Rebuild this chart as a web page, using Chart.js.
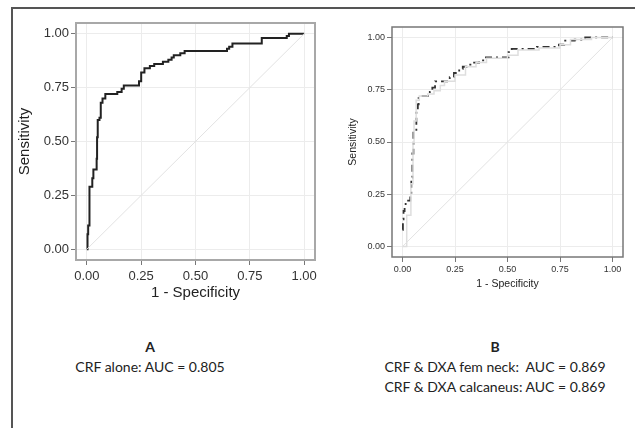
<!DOCTYPE html>
<html>
<head>
<meta charset="utf-8">
<script src="https://cdn.jsdelivr.net/npm/chart.js@4.4.1/dist/chart.umd.min.js"></script>
<style>
  html, body { margin: 0; padding: 0; background: #fff; }
  body { width: 635px; height: 428px; position: relative; overflow: hidden; }
  .frame { position: absolute; background: #555; }
  canvas { position: absolute; }
  .cap { position: absolute; font-family: Lato, "Open Sans", sans-serif; font-size: 14px; color: #222; text-align: center; white-space: pre; line-height: 20px; }
  .cap b { font-weight: 700; }
</style>
</head>
<body>
<div class="frame" style="left:12px;top:7px;width:623px;height:2px"></div>
<div class="frame" style="left:11px;top:7px;width:2px;height:421px"></div>

<div style="position:absolute;left:14px;top:10px;width:308px;height:292px">
  <canvas id="rocA" width="308" height="292"></canvas>
</div>
<div style="position:absolute;left:345px;top:12px;width:285px;height:280px">
  <canvas id="rocB" width="285" height="280"></canvas>
</div>

<div class="cap" style="left:60px;top:337px;width:180px"><b>A</b>
CRF alone: AUC = 0.805</div>
<div class="cap" style="left:370px;top:337px;width:250px"><b>B</b>
CRF &amp; DXA fem neck:  AUC = 0.869
CRF &amp; DXA calcaneus: AUC = 0.869</div>

<script>
// ROC step points: x = 1 - specificity where sensitivity rises, y = new sensitivity
const fprA = [0, 0.003, 0.006, 0.012, 0.025, 0.03, 0.045, 0.047, 0.05, 0.058, 0.064, 0.072, 0.085, 0.14, 0.16, 0.17, 0.24, 0.25, 0.265, 0.29, 0.31, 0.35, 0.375, 0.39, 0.40, 0.43, 0.45, 0.645, 0.655, 0.67, 0.805, 0.92, 0.93, 1.0];
const tprA = [0, 0.07, 0.11, 0.29, 0.33, 0.37, 0.42, 0.52, 0.60, 0.61, 0.68, 0.70, 0.72, 0.73, 0.745, 0.76, 0.78, 0.82, 0.84, 0.85, 0.86, 0.87, 0.88, 0.89, 0.90, 0.91, 0.92, 0.93, 0.94, 0.955, 0.98, 0.99, 1.0, 1.0];

// CRF & DXA femoral neck (dark, dash-dot)
const fprNeck = [0, 0.002, 0.005, 0.01, 0.015, 0.037, 0.042, 0.047, 0.052, 0.066, 0.073, 0.077, 0.13, 0.142, 0.155, 0.225, 0.245, 0.27, 0.287, 0.31, 0.335, 0.365, 0.39, 0.505, 0.52, 0.64, 0.745, 0.77, 0.82, 0.87, 1.0];
const tprNeck = [0.08, 0.13, 0.17, 0.19, 0.22, 0.25, 0.33, 0.445, 0.55, 0.654, 0.68, 0.72, 0.74, 0.76, 0.79, 0.81, 0.83, 0.85, 0.86, 0.87, 0.88, 0.89, 0.905, 0.93, 0.945, 0.955, 0.965, 0.985, 0.99, 1.0, 1.0];

// CRF & DXA calcaneus (light grey)
const fprCalc = [0, 0.02, 0.04, 0.05, 0.055, 0.065, 0.08, 0.12, 0.15, 0.18, 0.2, 0.25, 0.3, 0.35, 0.4, 0.5, 0.55, 0.65, 0.75, 0.8, 0.9, 1.0];
const tprCalc = [0, 0.15, 0.3, 0.5, 0.6, 0.7, 0.72, 0.73, 0.745, 0.77, 0.79, 0.82, 0.86, 0.88, 0.9, 0.915, 0.94, 0.95, 0.965, 0.99, 1.0, 1.0];

const tickVals = [0, 0.25, 0.5, 0.75, 1];
const refLine = [0, 1];

const pts = (xs, ys) => xs.map((x, i) => ({ x: x, y: ys[i] }));

const panelBorder = {
  id: 'panelBorder',
  afterDatasetsDraw(chart, args, opts) {
    const a = chart.chartArea, ctx = chart.ctx;
    ctx.save();
    ctx.strokeStyle = opts.color;
    ctx.lineWidth = opts.width;
    ctx.strokeRect(a.left, a.top, a.right - a.left, a.bottom - a.top);
    ctx.restore();
  }
};

function makeRoc(id, sets, o) {
  const font = { family: '"Liberation Sans", Arial, sans-serif', size: o.tick };
  const titleFont = { family: '"Liberation Sans", Arial, sans-serif', size: o.title };
  const axis = (title, fit, pad) => ({
    type: 'linear', min: -0.05, max: 1.05,
    afterBuildTicks: s => { s.ticks = tickVals.map(v => ({ value: v })); },
    afterFit: fit,
    ticks: { callback: v => Number(v).toFixed(2), font: font, color: '#333', padding: pad },
    grid: { color: '#ececec', lineWidth: 1, tickColor: '#777', tickLength: 5 },
    border: { display: false },
    title: { display: true, text: title, font: titleFont, color: '#222', padding: o.titlePad }
  });
  return new Chart(document.getElementById(id), {
    type: 'line',
    data: {
      datasets: [{
        data: pts(refLine, refLine), borderColor: '#e2e2e2', borderWidth: 1, pointRadius: 0
      }].concat(sets)
    },
    options: {
      responsive: false, animation: false,
      layout: { padding: o.padding },
      plugins: { legend: { display: false }, tooltip: { enabled: false },
                 panelBorder: { color: o.border, width: o.borderWidth } },
      scales: {
        x: axis('1 - Specificity', s => { s.height = o.xh; }, o.xpad),
        y: axis('Sensitivity', s => { s.width = o.yw; }, o.ypad)
      }
    },
    plugins: [panelBorder]
  });
}

makeRoc('rocA', [{
  data: pts(fprA, tprA), stepped: 'before', borderColor: '#222', borderWidth: 2, pointRadius: 0
}], {
  tick: 13, title: 15, padding: { top: 13, right: 7, left: 0, bottom: 0 },
  xh: 42, yw: 62, xpad: 4, ypad: 2, titlePad: { top: 2, bottom: 0 },
  border: '#a8a8a8', borderWidth: 2
});

makeRoc('rocB', [{
  data: pts(fprCalc, tprCalc), stepped: 'before', borderColor: '#dedede', borderWidth: 1.5, pointRadius: 0
}, {
  data: pts(fprNeck, tprNeck), stepped: 'before', borderColor: '#333', borderWidth: 1.8,
  borderDash: [7, 4, 2, 4], pointRadius: 0
}], {
  tick: 9, title: 10.5, padding: { top: 15, right: 7, left: 0, bottom: 0 },
  xh: 35, yw: 47, xpad: 2, ypad: 2, titlePad: { top: 2, bottom: 2 },
  border: '#777', borderWidth: 1.5
});
</script>
</body>
</html>
